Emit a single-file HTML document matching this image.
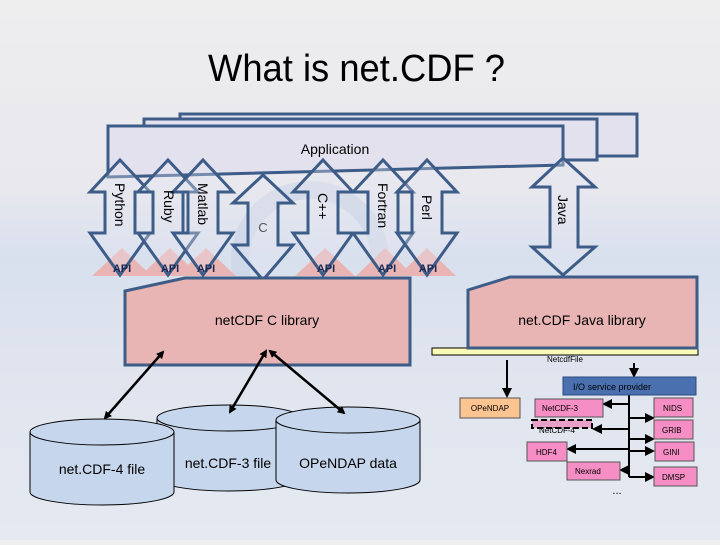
<!DOCTYPE html>
<html><head><meta charset="utf-8"><style>
html,body{margin:0;padding:0;}
body{width:720px;height:540px;overflow:hidden;background:linear-gradient(180deg,#eeeeef 0%,#e8e8ee 35%,#d8e0ee 48%,#dfe4ee 65%,#e6e9f1 100%);font-family:"Liberation Sans",sans-serif;}
</style></head><body>
<svg width="720" height="540" viewBox="0 0 720 540" xmlns="http://www.w3.org/2000/svg" font-family="Liberation Sans, sans-serif">
<defs>
<marker id="ah" markerWidth="8" markerHeight="8" refX="6" refY="4" orient="auto-start-reverse" markerUnits="userSpaceOnUse"><path d="M0,0 L8,4 L0,8 z" fill="#000"/></marker>
<marker id="ah2" markerWidth="10" markerHeight="10" refX="8" refY="5" orient="auto" markerUnits="userSpaceOnUse"><path d="M0,0 L10,5 L0,10 z" fill="#000"/></marker>
</defs>
<circle cx="310" cy="260" r="70" fill="none" stroke="#c9d3e6" stroke-width="18" opacity="0.6"/>
<text x="208" y="81" font-size="38" textLength="297" lengthAdjust="spacingAndGlyphs" fill="#000">What is net.CDF ?</text>
<!-- application rects -->
<g stroke="#3d5d88" stroke-width="3" fill="#e4e1ee">
<rect x="180" y="114" width="457" height="42"/>
<rect x="144" y="119" width="453" height="41"/>
<path d="M108,126 L563,126 L563,165 L108,177 z"/>
</g>
<text x="335" y="154" font-size="14" text-anchor="middle">Application</text>
<!-- API triangles -->
<g fill="#e8b4b4">
<path d="M92,276 L122,248 L152,276z"/><path d="M140,276 L170,248 L200,276z"/><path d="M176,276 L206,248 L236,276z"/>
<path d="M295,276 L325,248 L355,276z"/><path d="M356,276 L385,248 L414,276z"/><path d="M398,276 L427,248 L456,276z"/>
</g>
<!-- arrows -->
<g stroke="#3d5d88" stroke-width="3" fill="#e4e6f2" fill-opacity="0.35">
<path d="M120,160 L150,192 L135,192 L135,233 L150,233 L120,275 L90,233 L105,233 L105,192 L90,192 z"/>
<path d="M168,160 L198,192 L183,192 L183,233 L198,233 L168,275 L138,233 L153,233 L153,192 L138,192 z"/>
<path d="M203,160 L233,192 L218,192 L218,233 L233,233 L203,275 L173,233 L188,233 L188,192 L173,192 z"/>
<path d="M263,175 L293,203 L278,203 L278,245 L293,245 L263,280 L233,245 L248,245 L248,203 L233,203 z"/>
<path d="M323,160 L353,192 L338,192 L338,233 L353,233 L323,275 L293,233 L308,233 L308,192 L293,192 z"/>
<path d="M383,160 L413,192 L398,192 L398,233 L413,233 L383,275 L353,233 L368,233 L368,192 L353,192 z"/>
<path d="M427,160 L457,192 L442,192 L442,233 L457,233 L427,275 L397,233 L412,233 L412,192 L397,192 z"/>
<path d="M563,158 L595,187 L578,187 L578,247 L595,247 L563,275 L532,247 L550,247 L550,187 L532,187 z"/>
</g>
<g font-size="14" fill="#000">
<text transform="translate(115,183) rotate(90)">Python</text>
<text transform="translate(164,190) rotate(90)">Ruby</text>
<text transform="translate(198,183) rotate(90)">Matlab</text>
<text transform="translate(318,193) rotate(90)">C++</text>
<text transform="translate(378,183) rotate(90)">Fortran</text>
<text transform="translate(422,195) rotate(90)">Perl</text>
<text transform="translate(558,195) rotate(90)">Java</text>
</g>
<text x="263" y="232" font-size="13" text-anchor="middle" fill="#555">C</text>
<g font-size="11" font-weight="bold" fill="#1c2a55" text-anchor="middle">
<text x="122" y="272">API</text><text x="170" y="272">API</text><text x="206" y="272">API</text>
<text x="326" y="272">API</text><text x="387" y="272">API</text><text x="428" y="272">API</text>
</g>
<!-- libraries -->
<rect x="432" y="348" width="266" height="7" fill="#fbfbb8" stroke="#000" stroke-width="1"/>
<g stroke="#3d5d88" stroke-width="3" fill="#e8b4b4">
<path d="M125,291 L185,278 L410,278 L410,365 L125,365 z"/>
<path d="M468,290 L510,277 L697,277 L697,348 L468,348 z"/>
</g>
<text x="267" y="325" font-size="14" text-anchor="middle">netCDF C library</text>
<text x="582" y="325" font-size="14" text-anchor="middle">net.CDF Java library</text>
<text x="565" y="362" font-size="8" text-anchor="middle">NetcdfFile</text>
<!-- cylinders -->
<g stroke="#000" stroke-width="1" fill="#c6d6ec">
<path d="M157,418 L157,478 A72,13 0 0 0 301,478 L301,418 z"/><ellipse cx="229" cy="418" rx="72" ry="13"/>
<path d="M30,432 L30,492 A72,13 0 0 0 174,492 L174,432 z"/><ellipse cx="102" cy="432" rx="72" ry="13"/>
<path d="M276,420 L276,480 A72,13 0 0 0 420,480 L420,420 z"/><ellipse cx="348" cy="420" rx="72" ry="13"/>
</g>
<text x="102" y="474" font-size="14" text-anchor="middle">net.CDF-4 file</text>
<text x="228" y="468" font-size="14" text-anchor="middle">net.CDF-3 file</text>
<text x="348" y="468" font-size="14" text-anchor="middle">OPeNDAP data</text>
<g stroke="#000" stroke-width="2.5" marker-start="url(#ah)" marker-end="url(#ah)">
<line x1="163" y1="352" x2="105" y2="418"/>
<line x1="266" y1="351" x2="230" y2="412"/>
<line x1="270" y1="351" x2="344" y2="413"/>
</g>
<!-- right I/O part -->
<g stroke="#000" stroke-width="2">
<line x1="507" y1="360" x2="507" y2="396" marker-end="url(#ah2)"/>
<line x1="634" y1="363" x2="634" y2="376" marker-end="url(#ah2)"/>
<line x1="629" y1="395" x2="629" y2="477"/>
<line x1="629" y1="404" x2="604" y2="404" marker-end="url(#ah2)"/>
<line x1="629" y1="429" x2="594" y2="429" marker-end="url(#ah2)"/>
<line x1="629" y1="449" x2="568" y2="449" marker-end="url(#ah2)"/>
<line x1="629" y1="470" x2="621" y2="470" marker-end="url(#ah2)"/>
<line x1="629" y1="418" x2="653" y2="418" marker-end="url(#ah2)"/>
<line x1="629" y1="439" x2="653" y2="439" marker-end="url(#ah2)"/>
<line x1="629" y1="451" x2="653" y2="451" marker-end="url(#ah2)"/>
<line x1="629" y1="477" x2="653" y2="477" marker-end="url(#ah2)"/>
</g>
<rect x="563" y="377" width="133" height="18" fill="#4a70b0" stroke="#2a4a80" stroke-width="1"/>
<text x="612" y="390" font-size="9" text-anchor="middle">I/O service provider</text>
<rect x="460" y="398" width="60" height="20" fill="#fbc490" stroke="#555" stroke-width="1"/>
<text x="490" y="411" font-size="8" text-anchor="middle">OPeNDAP</text>
<g fill="#f48ec4" stroke="#555" stroke-width="1" font-size="8">
<rect x="535" y="399" width="68" height="18"/><rect x="527" y="442" width="40" height="19"/><rect x="567" y="462" width="53" height="18"/>
<rect x="654" y="398" width="39" height="19"/><rect x="654" y="420" width="39" height="19"/><rect x="655" y="442" width="39" height="19"/><rect x="654" y="467" width="43" height="19"/>
</g>
<rect x="532" y="420" width="60" height="8" fill="#e8a0c8" stroke="#000" stroke-width="2" stroke-dasharray="6,3"/>
<g font-size="8" fill="#000">
<text x="542" y="411">NetCDF-3</text><text x="539" y="433">NetCDF-4</text><text x="536" y="455">HDF4</text><text x="575" y="474">Nexrad</text>
<text x="663" y="411">NIDS</text><text x="662" y="433">GRIB</text><text x="663" y="455">GINI</text><text x="662" y="480">DMSP</text>
</g>
<text x="617" y="494" font-size="11" text-anchor="middle">...</text>
</svg>
</body></html>
